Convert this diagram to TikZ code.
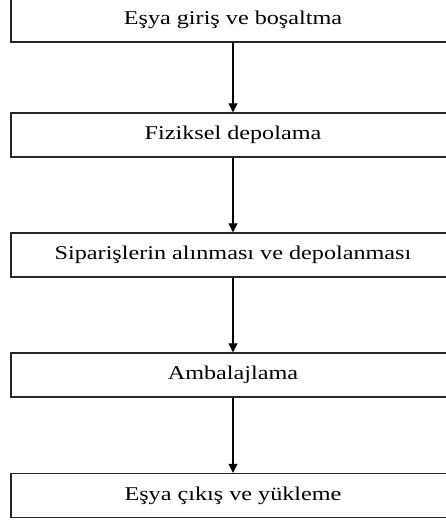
\documentclass[tikz,border=0pt]{standalone}
\usepackage{fontspec}
\setmainfont{Liberation Serif}[FakeStretch=1.24]
\usetikzlibrary{arrows.meta}
\begin{document}
\begin{tikzpicture}[x=1pt,y=-1pt,
  stepbox/.style={draw=black!85,line width=1.4pt,fill=white,
    minimum width=444pt,minimum height=44pt,inner sep=0pt,
    font=\fontsize{19.5}{22}\selectfont},
  flow/.style={line width=1.3pt,-{Triangle[length=9pt,width=9pt]}}]
\useasboundingbox (0,0) rectangle (446,522);
\clip (0,0) rectangle (446,522);
\fill[white] (0,0) rectangle (446,522);
\node[stepbox] (b1) at (233,20)  {Eşya giriş ve boşaltma};
\node[stepbox] (b2) at (233,135) {Fiziksel depolama};
\node[stepbox] (b3) at (233,255) {Siparişlerin alınması ve depolanması};
\node[stepbox] (b4) at (233,375) {Ambalajlama};
\node[stepbox] (b5) at (233,495.5) {Eşya çıkış ve yükleme};
\draw[flow] (b1.south) -- (b2.north);
\draw[flow] (b2.south) -- (b3.north);
\draw[flow] (b3.south) -- (b4.north);
\draw[flow] (b4.south) -- (b5.north);
\end{tikzpicture}
\end{document}
